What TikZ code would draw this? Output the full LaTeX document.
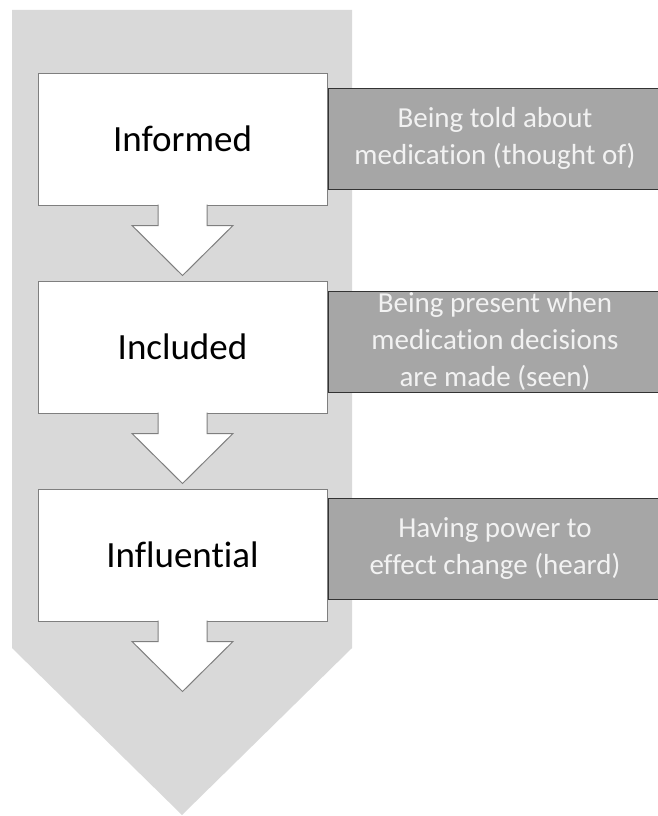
\documentclass[tikz,border=0pt]{standalone}
\usepackage{fontspec}
\setmainfont{Carlito}[Ligatures=NoCommon]
\usepackage{xcolor}
\usetikzlibrary{positioning}

\definecolor{panelgrey}{HTML}{D9D9D9}
\definecolor{notegrey}{HTML}{A6A6A6}
\definecolor{edgegrey}{HTML}{7F7F7F}
\definecolor{notetext}{HTML}{F2F2F2}

\begin{document}
\begin{tikzpicture}[x=1pt, y=-1pt]
        \tikzset{
                stage/.style = {draw=edgegrey, line width=1pt, fill=white, rectangle,
                                minimum width=289pt, minimum height=132pt,
                                font=\fontsize{37}{44}\selectfont},
                note/.style  = {draw=black!80, line width=1pt, fill=notegrey, rectangle,
                                minimum width=334pt, minimum height=101pt, inner sep=0pt,
                                align=center, text=notetext,
                                font=\fontsize{29}{37}\selectfont},
                drop/.style  = {draw=edgegrey, line width=1pt, fill=white}
        }
        \useasboundingbox (0,0) rectangle (657,816);

        % big grey arrow behind everything
        \fill[panelgrey] (12,10) -- (352,10) -- (352,648) -- (182,815) -- (12,648) -- cycle;

        % the three stages, relatively positioned
        \node[stage] (s1) at (182.5,139) {Informed};
        \node[stage, below=75pt of s1] (s2) {Included};
        \node[stage, below=75pt of s2] (s3) {Influential};

        % white arrows hanging under each stage
        \foreach \s in {1,2,3} {
                \draw[drop] ([xshift=-24.5pt, yshift=1pt]s\s.south) -- ++(0,21) -- ++(-26,0)
                        -- ++(50.5,50) -- ++(50.5,-50) -- ++(-26,0) -- ++(0,-21);
        };

        % notes beside each stage
        \node[note, anchor=north west] (n1) at ([yshift=-15pt]s1.north east)
                {Being told about\\medication (thought of)};
        \node[note, anchor=north west] (n2) at ([yshift=-10pt]s2.north east)
                {Being present when\\medication decisions\\are made (seen)};
        \node[note, anchor=north west] (n3) at ([yshift=-9pt]s3.north east)
                {Having power to\\effect change (heard)};

\end{tikzpicture}
\end{document}
